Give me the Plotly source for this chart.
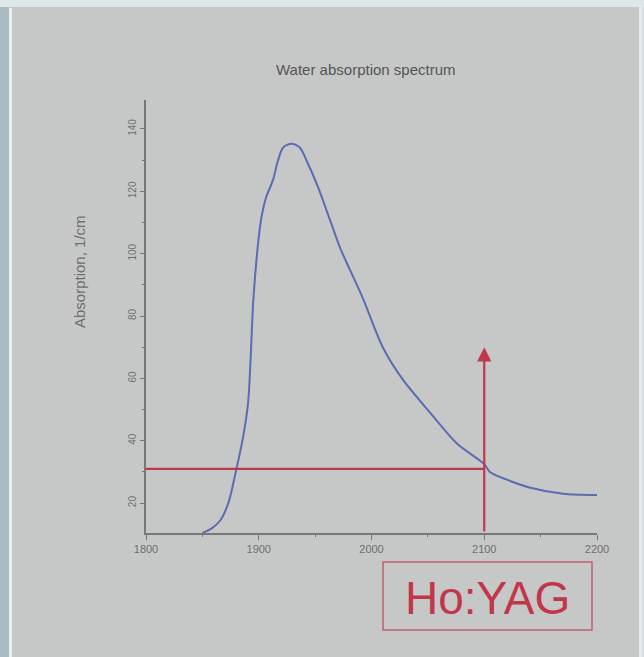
import plotly.graph_objects as go

# ---- data ----
wavelength_nm = [1850, 1858, 1866, 1873, 1880, 1886, 1890.5, 1893, 1895, 1898.5, 1902, 1906.5,
                 1912.5, 1917, 1921.5, 1929, 1936.5, 1943.5, 1952.5, 1963, 1972, 1980,
                 1992, 2010, 2028, 2052, 2076, 2100, 2105, 2120, 2140, 2170, 2200]
absorption_per_cm = [10.4, 11.8, 14.5, 20, 30.6, 41, 52, 68, 84, 100, 110.8, 118,
                     123.5, 129.8, 134, 135.3, 134, 129, 121.4, 111, 102, 95.5,
                     86, 70, 59.5, 49, 39, 32.5, 30, 27.5, 25, 23, 22.6]
x_ticks = [1800, 1900, 2000, 2100, 2200]
y_ticks = [20, 40, 60, 80, 100, 120, 140]
laser_wavelength = 2100
laser_absorption = 31
arrow_top = 70
title_text = "Water absorption spectrum"
y_title = "Absorption, 1/cm"
label_text = "Ho:YAG"

W, H = 644, 657
L, R, T, B = 146, 47, 100, 124
PW, PH = W - L - R, H - T - B


def px(xp):
    return (xp - L) / PW


def py(yp):
    return (H - B - yp) / PH


RED = "#c2364a"
GRAY = "#6e6e6e"

fig = go.Figure()
fig.add_trace(go.Scatter(x=wavelength_nm, y=absorption_per_cm, mode="lines",
                         line=dict(color="#5a6cb2", width=2, shape="spline", smoothing=0.8),
                         hoverinfo="skip", showlegend=False))
fig.add_trace(go.Scatter(x=[x_ticks[0], laser_wavelength], y=[laser_absorption, laser_absorption],
                         mode="lines", line=dict(color=RED, width=2.2),
                         hoverinfo="skip", showlegend=False))

fig.add_annotation(x=laser_wavelength, y=arrow_top, ax=laser_wavelength, ay=10.4,
                   xref="x", yref="y", axref="x", ayref="y", showarrow=True,
                   arrowhead=2, arrowsize=1.3, arrowwidth=2.2, arrowcolor=RED, text="")

shapes = [
    # photo frame
    dict(type="rect", xref="paper", yref="paper", x0=px(0), x1=px(9), y0=py(H), y1=py(0),
         fillcolor="#a9bcc2", line=dict(width=0), layer="below"),
    dict(type="rect", xref="paper", yref="paper", x0=px(9), x1=px(12), y0=py(H), y1=py(8),
         fillcolor="#e9eeee", line=dict(width=0), layer="below"),
    dict(type="rect", xref="paper", yref="paper", x0=px(0), x1=px(W), y0=py(7), y1=py(0),
         fillcolor="#dde7ea", line=dict(width=0), layer="below"),
    dict(type="rect", xref="paper", yref="paper", x0=px(639), x1=px(642), y0=py(H), y1=py(7),
         fillcolor="#e6eaea", line=dict(width=0), layer="below"),
    dict(type="rect", xref="paper", yref="paper", x0=px(642), x1=px(W), y0=py(H), y1=py(7),
         fillcolor="#d3dcde", line=dict(width=0), layer="below"),
    # Ho:YAG box
    dict(type="rect", xref="paper", yref="paper", x0=px(383), x1=px(592), y0=py(630), y1=py(562),
         fillcolor="rgba(0,0,0,0)", line=dict(color="#c0606c", width=1.5)),
]

annotations = [
    dict(text=title_text, xref="paper", yref="paper", x=px(366), y=py(69), showarrow=False,
         font=dict(family="Liberation Sans, Arial", size=15, color="#555555"),
         xanchor="center", yanchor="middle"),
    dict(text=y_title, xref="paper", yref="paper", x=px(79), y=py(272), showarrow=False,
         textangle=-90, font=dict(family="Liberation Sans, Arial", size=15, color=GRAY),
         xanchor="center", yanchor="middle"),
    dict(text=label_text, xref="paper", yref="paper", x=px(487), y=py(598), showarrow=False,
         font=dict(family="Liberation Sans, Arial", size=46, color=RED),
         xanchor="center", yanchor="middle"),
]
for a in annotations:
    fig.add_annotation(**a)

fig.update_layout(
    width=W, height=H,
    margin=dict(l=L, r=R, t=T, b=B),
    paper_bgcolor="#c6c8c8", plot_bgcolor="#c6c8c8",
    shapes=shapes,
    xaxis=dict(range=[1800, 2200], tickvals=x_ticks, ticks="outside", ticklen=5,
               tickcolor="#777777", showline=True, linecolor="#777777", linewidth=1.6,
               showgrid=False, zeroline=False,
               tickfont=dict(family="Liberation Sans, Arial", size=11, color=GRAY),
               minor=dict(dtick=50, tick0=1800, ticks="outside", ticklen=2, tickcolor="#777777")),
    yaxis=dict(range=[10.4, 149.3], tickvals=y_ticks, ticks="outside", ticklen=4,
               tickcolor="#777777", showline=True, linecolor="#777777", linewidth=1.6,
               showgrid=False, zeroline=False, tickangle=-90,
               tickfont=dict(family="Liberation Sans, Arial", size=10, color=GRAY),
               minor=dict(dtick=10, tick0=0, ticks="outside", ticklen=2, tickcolor="#777777")),
)

fig.write_html("out.html")
